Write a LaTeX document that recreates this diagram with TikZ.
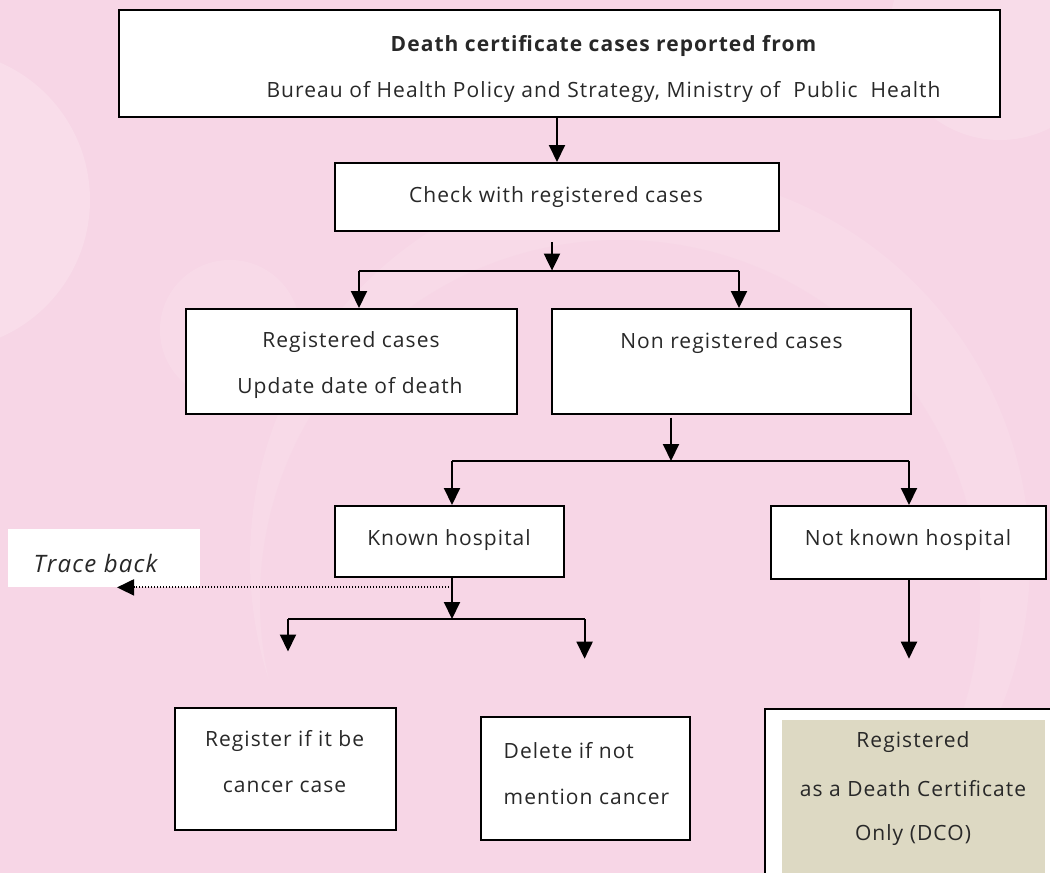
\documentclass[tikz,border=0pt]{standalone}
\usepackage{fontspec}
\setmainfont{Open Sans}[LetterSpace=5]
\usetikzlibrary{arrows.meta}
\definecolor{bg}{RGB}{247,214,230}
\definecolor{bgl}{RGB}{251,228,238}
\definecolor{tanfill}{RGB}{221,217,195}
\definecolor{ink}{RGB}{40,40,40}
\tikzset{
  box/.style={draw=black, line width=2pt, fill=white, inner sep=0pt},
  txt/.style={font=\fontsize{21}{24}\selectfont, text=ink, inner sep=0pt},
  arr/.style={line width=2pt, -{Triangle[width=16pt,length=17pt]}},
  ln/.style={line width=2pt},
  dotarr/.style={line width=1.9pt, dash pattern=on 1.5pt off 1.5pt, -{Triangle[width=16pt,length=17pt]}},
}
\begin{document}
\begin{tikzpicture}[x=1pt,y=-1pt]
\useasboundingbox (0,0) rectangle (1050,873);
% background
\fill[bg] (0,0) rectangle (1050,873);
\begin{scope}
\clip (0,0) rectangle (1050,873);
\fill[bgl, opacity=0.5] (-60,200) circle (150);
\fill[bgl, opacity=0.3] (640,560) circle (390);
\fill[bg] (620,600) circle (360);
\fill[bgl, opacity=0.35] (230,330) circle (70);
\fill[bgl, opacity=0.45] (1000,30) circle (110);
\end{scope}

% boxes
\node[box, minimum width=881pt, minimum height=107pt] (top) at (559,63.5) {};
\node[txt, font=\fontsize{21}{24}\selectfont\bfseries] (topa) at (603.5,46) {Death certificate cases reported from};
\node[txt] (topb) at (603.5,92) {Bureau of Health Policy and Strategy, Ministry of\ \ Public\ \ Health};

\node[box, minimum width=444pt, minimum height=67.5pt] (check) at (557,196.75) {};
\node[txt] (checkt) at (556,197) {Check with registered cases};

\node[box, minimum width=331.5pt, minimum height=105pt] (reg) at (351.25,361.5) {};
\node[txt] (rega) at (351,342.4) {Registered cases};
\node[txt] (regb) at (350,388) {Update date of death};

\node[box, minimum width=358.3pt, minimum height=105pt] (nonreg) at (731.5,361.5) {};
\node[txt] (nonregt) at (731.5,343.5) {Non registered cases};

\node[box, minimum width=229pt, minimum height=71.4pt] (known) at (449.3,541.7) {};
\node[txt] (knownt) at (449,540) {Known hospital};

\node[box, minimum width=275.3pt, minimum height=73pt] (notknown) at (908.35,542.5) {};
\node[txt] (notknownt) at (908,540) {Not known hospital};

\node[fill=white, minimum width=192pt, minimum height=58.4pt, inner sep=0pt] (trace) at (104,558.2) {};
\node[txt, font=\fontsize{24}{26}\selectfont\itshape, anchor=west] (tracet) at (33.5,563.5) {Trace back};

\node[box, minimum width=221pt, minimum height=122pt] (regif) at (285.25,768.65) {};
\node[txt] (regifa) at (284.6,741) {Register if it be};
\node[txt] (regifb) at (284.6,787.3) {cancer case};

\node[box, minimum width=208.3pt, minimum height=122.6pt] (del) at (585.55,778.3) {};
\node[txt, anchor=west] (dela) at (503.5,751) {Delete if not};
\node[txt, anchor=west] (delb) at (503.5,797) {mention cancer};

\node[box, minimum width=295.3pt, minimum height=181.2pt] (dco) at (912.35,799.4) {};
\node[fill=tanfill, minimum width=262.6pt, minimum height=154pt, inner sep=0pt] (dcofill) at (913.3,797) {};
\node[txt] (dcoa) at (913,742) {Registered};
\node[txt] (dcob) at (913,789) {as a Death Certificate};
\node[txt] (dcoc) at (913,834.6) {Only (DCO)};

% junction coordinates
\coordinate (c1) at (552,242);
\coordinate (j1) at (552,270.6);
\coordinate (a1) at (359,270.6);
\coordinate (a2) at (739,270.6);
\coordinate (c2) at (671,417.6);
\coordinate (j2) at (671,461);
\coordinate (b1) at (452,461);
\coordinate (b2) at (909,461);
\coordinate (j3) at (452,619);
\coordinate (tb) at (452,587.4);
\coordinate (tbend) at (117,587.4);
\coordinate (d1) at (288,619);
\coordinate (d2) at (584.6,619);
\coordinate (e1) at (288,651.5);
\coordinate (e2) at (584.6,658.7);
\coordinate (f1) at (909,658.7);

% connectors
\draw[arr] (top.south -| check.north) -- (check.north);
\draw[arr] (c1) -- (j1);
\draw[ln] (a1) -- (a2);
\draw[arr] (a1) -- (a1 |- reg.north);
\draw[arr] (a2) -- (a2 |- nonreg.north);
\draw[arr] (c2) -- (j2);
\draw[ln] (b1) -- (b2);
\draw[arr] (b1) -- (b1 |- known.north);
\draw[arr] (b2) -- (b2 |- notknown.north);
\draw[arr] (b1 |- known.south) -- (j3);
\draw[dotarr] (tb) -- (tbend);
\draw[ln] (d1) -- (d2);
\draw[arr] (d1) -- (e1);
\draw[arr] (d2) -- (e2);
\draw[arr] (b2 |- notknown.south) -- (f1);
\end{tikzpicture}
\end{document}
